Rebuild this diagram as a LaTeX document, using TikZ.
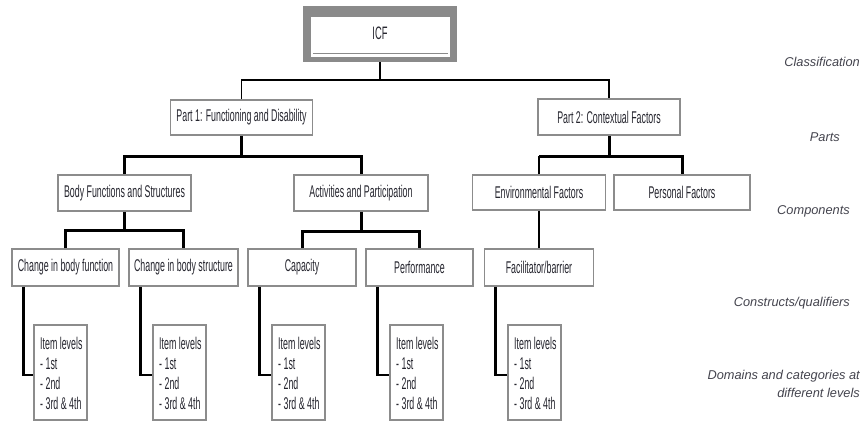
\documentclass[tikz,border=0pt]{standalone}
\usepackage{fontspec}
\setmainfont{Liberation Sans}
\newfontfamily\boxfont[FakeStretch=0.52]{Liberation Sans}
\usetikzlibrary{calc}

\definecolor{framegray}{HTML}{8A8A8A}
\definecolor{edgegray}{HTML}{8C8C8C}
\definecolor{inkdark}{HTML}{26262F}
\definecolor{labelgray}{HTML}{44444E}

\tikzset{
  box/.style={draw=edgegray, line width=1.6pt, fill=white, text=inkdark,
    font=\boxfont\fontsize{17}{20}\selectfont, inner sep=0pt},
  itembox/.style={box, minimum width=53pt, minimum height=95pt, anchor=north west},
  itemtext/.style={text=inkdark, font=\boxfont\fontsize{17}{20}\selectfont,
    align=left, inner sep=0pt, anchor=west},
  link/.style={draw=black, line width=3pt},
  thinlink/.style={draw=black, line width=1.6pt},
  elbow/.style={draw=black, line width=2.6pt},
  levellabel/.style={font=\itshape\fontsize{12.8}{18}\selectfont, text=labelgray,
    anchor=east, inner sep=0pt, align=right},
}

% four-line list of item levels, placed inside an item box
\newcommand{\itemlevels}[1]{%
  \node[itemtext] (#1-t) at ($(#1.west)+(7,1.5)$)
    {Item levels\\- 1st\\- 2nd\\- 3rd \& 4th};}

\begin{document}
\begin{tikzpicture}[x=1pt, y=-1pt]
  \fill[white] (0,0) rectangle (863,421);
  \useasboundingbox (0,0) rectangle (863,421);

  % root: framed classification box
  \node[fill=framegray, minimum width=154pt, minimum height=56pt, inner sep=0pt] (icf) at (380,34) {};
  \fill[white] ($(icf.north west)+(8,11)$) rectangle ($(icf.south east)+(-7,-5)$);
  \draw[framegray, line width=1.2pt] ($(icf.south west)+(10,-9)$) -- ($(icf.south east)+(-9,-9)$);
  \node[font=\boxfont\fontsize{18}{20}\selectfont, text=inkdark] (icftext) at ($(icf.center)+(0,-1)$) {ICF};

  % parts
  \node[box, minimum width=142pt, minimum height=35pt] (p1) at (241.5,117.5) {Part 1: Functioning and Disability};
  \node[box, minimum width=142pt, minimum height=36pt] (p2) at (609,117) {Part 2: Contextual Factors};

  % components
  \node[box, minimum width=133pt, minimum height=36pt] (body) at (124.5,193) {Body Functions and Structures};
  \node[box, minimum width=134pt, minimum height=36pt] (act) at (361,193) {Activities and Participation};
  \node[box, minimum width=133pt, minimum height=35pt] (env) at (539,192.5) {Environmental Factors};
  \node[box, minimum width=136pt, minimum height=35pt] (pers) at (682,192.5) {Personal Factors};

  % constructs / qualifiers
  \node[box, minimum width=107pt, minimum height=37pt] (cbf) at (65.5,267.5) {Change in body function};
  \node[box, minimum width=109pt, minimum height=37pt] (cbs) at (183.5,267.5) {Change in body structure};
  \node[box, minimum width=108pt, minimum height=37pt] (cap) at (302,267.5) {Capacity};
  \node[box, minimum width=107pt, minimum height=37pt] (perf) at (419.5,267.5) {Performance};
  \node[box, minimum width=109pt, minimum height=37pt] (fac) at (539,267.5) {Facilitator/barrier};

  % item levels
  \node[itembox] (i1) at (33,324) {};
  \node[itembox] (i2) at (152,324) {};
  \node[itembox] (i3) at (271,324) {};
  \node[itembox] (i4) at (389,324) {};
  \node[itembox] (i5) at (507,324) {};
  \itemlevels{i1}
  \itemlevels{i2}
  \itemlevels{i3}
  \itemlevels{i4}
  \itemlevels{i5}

  % tree connectors
  \coordinate (j0) at (380,80);
  \draw[thinlink] (icf.south) -- (j0);
  \draw[thinlink] (p1.north) |- (j0) -| (p2.north);

  \coordinate (j1) at (241.5,156);
  \draw[link] (p1.south) -- (j1);
  \draw[link] (body.north) |- (j1) -| (act.north);

  \coordinate (j2) at (609,156);
  \draw[link] (p2.south) -- (j2);
  \draw[link] (env.north |- j2) -- (j2) -| (pers.north);
  \draw[thinlink] (env.north) -- (env.north |- j2);

  \coordinate (j3) at (124.5,230.5);
  \draw[link] (body.south) -- (j3);
  \draw[link] (cbf.north) |- (j3) -| (cbs.north);

  \coordinate (j4) at (361,231);
  \draw[link] (act.south) -- (j4);
  \draw[link] (cap.north) |- (j4) -| (perf.north);

  \draw[thinlink] (env.south) -- (fac.north);

  % elbows down to the item levels
  \draw[elbow] ($(cbf.south west)+(12,0)$) |- ($(i1.west)+(0,2.5)$);
  \draw[elbow] ($(cbs.south west)+(12,0)$) |- ($(i2.west)+(0,2.5)$);
  \draw[elbow] ($(cap.south west)+(12,0)$) |- ($(i3.west)+(0,2.5)$);
  \draw[elbow] ($(perf.south west)+(12,0)$) |- ($(i4.west)+(0,2.5)$);
  \draw[elbow] ($(fac.south west)+(12,0)$) |- ($(i5.west)+(0,2.5)$);

  % level names on the right
  \node[levellabel] (lclass) at (860,62) {Classification};
  \node[levellabel] (lparts) at (840,137) {Parts};
  \node[levellabel] (lcomp) at (850,211) {Components};
  \node[levellabel] (lcons) at (850,303) {Constructs/qualifiers};
  \node[levellabel] (ldom) at (860,384) {Domains and categories at\\different levels};
\end{tikzpicture}
\end{document}
